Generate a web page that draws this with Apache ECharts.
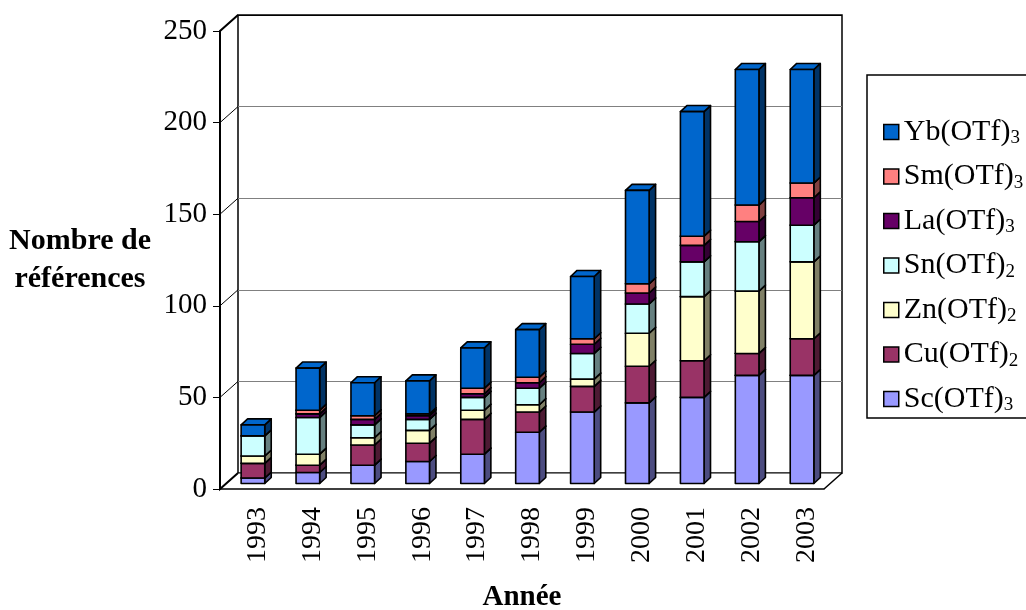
<!DOCTYPE html>
<html>
<head>
<meta charset="utf-8">
<script src="https://cdn.jsdelivr.net/npm/echarts@6.0.0/dist/echarts.min.js"></script>
<style>
  html, body { margin: 0; padding: 0; background: #fff; }
  #root { width: 1026px; height: 610px; }
</style>
</head>
<body>
<div id="root"></div>
<script>
// data (bottom of the stack first)
const years = ['1993','1994','1995','1996','1997','1998','1999','2000','2001','2002','2003'];
const sc = [3, 6, 10, 12, 16, 28, 39, 44, 47, 59, 59];
const cu = [8, 4, 11, 10, 19, 11, 14, 20, 20, 12, 20];
const zn = [4, 6, 4, 7, 5, 4, 4, 18, 35, 34, 42];
const sn = [11, 20, 7, 6, 7, 9, 14, 16, 19, 27, 20];
const la = [0, 2, 3, 2, 2, 3, 5, 6, 9, 11, 15];
const sm = [0, 2, 2, 1, 3, 3, 3, 5, 5, 9, 8];
const yb = [6, 23, 18, 18, 22, 26, 34, 51, 68, 74, 62];
const yTicks = [0, 50, 100, 150, 200, 250];

const stack = [
  { name: 'Sc(OTf)3', vals: sc, front: '#9999FF', side: '#4C4C80' },
  { name: 'Cu(OTf)2', vals: cu, front: '#993366', side: '#4D1A33' },
  { name: 'Zn(OTf)2', vals: zn, front: '#FFFFCC', side: '#808066' },
  { name: 'Sn(OTf)2', vals: sn, front: '#CCFFFF', side: '#668080' },
  { name: 'La(OTf)3', vals: la, front: '#660066', side: '#330033' },
  { name: 'Sm(OTf)3', vals: sm, front: '#FF8080', side: '#804040' },
  { name: 'Yb(OTf)3', vals: yb, front: '#0066CC', side: '#003366' }
];

const FONT = 'Liberation Serif';
const FRONT = { left: 220, top: 31, width: 604, height: 458 };
const DX = 18, DY = -16;   // depth of the 3d box

function makeRender(front, side){
  return function(params, api){
    const lo = api.value(1), hi = api.value(2);
    if(hi <= lo) return null;
    const band = api.size([1, 0])[0];
    const w = band * 0.43, dx = band * 0.118, dy = -band * 0.11;
    const sx = band * 0.1, sy = -band * 0.1;
    const pLo = api.coord([api.value(0), lo]);
    const pHi = api.coord([api.value(0), hi]);
    const x0 = pLo[0] + sx - w / 2, x1 = x0 + w;
    const yb = pLo[1] + sy, yt = pHi[1] + sy;
    const ln = { stroke: '#000', lineWidth: 1.6, lineJoin: 'round' };
    return { type: 'group', children: [
      { type: 'polygon', shape: { points: [[x1, yb], [x1 + dx, yb + dy], [x1 + dx, yt + dy], [x1, yt]] }, style: Object.assign({ fill: side }, ln) },
      { type: 'polygon', shape: { points: [[x0, yt], [x0 + dx, yt + dy], [x1 + dx, yt + dy], [x1, yt]] }, style: Object.assign({ fill: front }, ln) },
      { type: 'rect', shape: { x: x0, y: yt, width: w, height: yb - yt }, style: Object.assign({ fill: front }, ln) }
    ]};
  };
}

const base = years.map(() => 0);
const series = stack.map(s => {
  const data = s.vals.map((v, i) => {
    const item = [i, base[i], base[i] + v];
    base[i] += v;
    return item;
  });
  return {
    name: s.name,
    type: 'custom',
    xAxisIndex: 0, yAxisIndex: 0,
    itemStyle: { color: s.front },
    renderItem: makeRender(s.front, s.side),
    encode: { x: 0, y: [1, 2] },
    clip: false,
    data: data
  };
});

const gray = '#808080';
const chart = echarts.init(document.getElementById('root'));
chart.setOption({
  animation: false,
  backgroundColor: '#fff',
  grid: [
    Object.assign({ outerBoundsMode: 'none', containLabel: false }, FRONT),
    { left: FRONT.left + DX, top: FRONT.top + DY, width: FRONT.width, height: FRONT.height,
      outerBoundsMode: 'none', containLabel: false,
      show: true, borderColor: '#000', borderWidth: 1.5, backgroundColor: 'transparent' }
  ],
  xAxis: [
    { type: 'category', gridIndex: 0, data: years,
      axisLine: { lineStyle: { color: '#000', width: 1.5 } },
      axisTick: { length: 8, lineStyle: { color: '#000' } },
      axisLabel: { rotate: 90, margin: 18, color: '#000', fontFamily: FONT, fontSize: 28,
                   verticalAlign: 'top', lineHeight: 20 },
      name: 'Année', nameLocation: 'middle', nameGap: 94,
      nameTextStyle: { fontFamily: FONT, fontSize: 29, fontWeight: 'bold', color: '#000' } },
    { type: 'category', gridIndex: 1, data: years, show: false }
  ],
  yAxis: [
    { type: 'value', gridIndex: 0, min: 0, max: 250, interval: 50,
      axisLine: { show: false },
      axisTick: { show: true, length: 7, lineStyle: { color: '#000' } },
      axisLabel: { margin: 13, color: '#000', fontFamily: FONT, fontSize: 29 },
      splitLine: { show: false },
      name: 'Nombre de\nréférences', nameLocation: 'middle', nameRotate: 0, nameGap: 140,
      nameTextStyle: { fontFamily: FONT, fontSize: 30, fontWeight: 'bold', color: '#000',
                       lineHeight: 38, align: 'center' } },
    { type: 'value', gridIndex: 1, min: 0, max: 250, interval: 50,
      axisLine: { show: false }, axisTick: { show: false }, axisLabel: { show: false },
      splitLine: { show: true, lineStyle: { color: [gray, gray, gray, gray, gray, '#000'], width: 1 } } }
  ],
  legend: {
    orient: 'vertical', left: 878, top: 112,
    data: stack.map(s => s.name).reverse(),
    icon: 'rect', itemWidth: 15, itemHeight: 15, itemGap: 13.5,
    selectedMode: false,
    itemStyle: { borderColor: '#000', borderWidth: 1.5 },
    formatter: n => '{n|' + n.slice(0, -1) + '}{s|' + n.slice(-1) + '}',
    textStyle: {
      rich: {
        n: { fontFamily: FONT, fontSize: 30, lineHeight: 32, color: '#000' },
        s: { fontFamily: FONT, fontSize: 19, lineHeight: 12, verticalAlign: 'bottom', color: '#000' }
      }
    }
  },
  series: series
});

// 3d frame: left wall outline with the front axis, tick diagonals, floor corner, legend box
const bottom = FRONT.top + FRONT.height, right = FRONT.left + FRONT.width;
const frame = yTicks.map(v => {
  const y = FRONT.top + FRONT.height * (1 - v / 250);
  return { type: 'line', silent: true, z: 100,
    shape: { x1: FRONT.left, y1: y, x2: FRONT.left + DX, y2: y + DY },
    style: { stroke: '#000', lineWidth: 1 } };
});
frame.push({ type: 'polyline', silent: true, z: 100,
  shape: { points: [[FRONT.left + DX, FRONT.top + DY], [FRONT.left, FRONT.top],
                    [FRONT.left, bottom], [FRONT.left + DX, bottom + DY]] },
  style: { stroke: '#000', lineWidth: 2, fill: null } });
frame.push({ type: 'line', silent: true, z: 100,
  shape: { x1: right, y1: bottom, x2: right + DX, y2: bottom + DY },
  style: { stroke: '#000', lineWidth: 1.5 } });
frame.push({ type: 'rect', silent: true, z: 100,
  shape: { x: 867, y: 75, width: 200, height: 343 },
  style: { fill: 'none', stroke: '#000', lineWidth: 1.5 } });
chart.setOption({ graphic: frame });
</script>
</body>
</html>
